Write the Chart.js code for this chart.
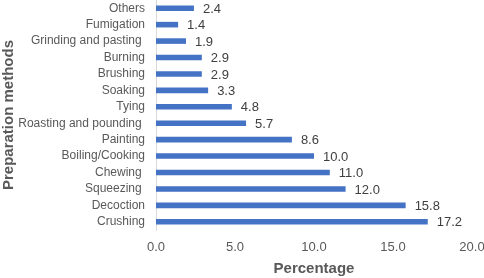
<!DOCTYPE html>
<html>
<head>
<meta charset="utf-8">
<script src="https://cdn.jsdelivr.net/npm/chart.js@4/dist/chart.umd.min.js"></script>
<style>
  html, body { margin: 0; padding: 0; background: #fff; }
  #wrap { width: 484px; height: 278px; }
</style>
</head>
<body>
<div id="wrap"><canvas id="c"></canvas></div>
<script>
const methods = ["Others", "Fumigation", "Grinding and pasting ", "Burning", "Brushing", "Soaking", "Tying",
  "Roasting and pounding ", "Painting", "Boiling/Cooking", "Chewing ", "Squeezing ", "Decoction", "Crushing"];
const percentages = [2.4, 1.4, 1.9, 2.9, 2.9, 3.3, 4.8, 5.7, 8.6, 10.0, 11.0, 12.0, 15.8, 17.2];
const xTicks = [0, 5, 10, 15, 20];

const FONT = "'Liberation Sans', Arial, sans-serif";

// values drawn at the end of each bar
const valueLabels = {
  id: "valueLabels",
  afterDatasetsDraw(chart){
    const ctx = chart.ctx;
    const meta = chart.getDatasetMeta(0);
    ctx.save();
    ctx.font = "13px " + FONT;
    ctx.fillStyle = "#404040";
    ctx.textAlign = "left";
    ctx.textBaseline = "middle";
    meta.data.forEach((bar, i) => {
      ctx.fillText(percentages[i].toFixed(1), bar.x + 9, bar.y + 1);
    });
    ctx.restore();
  }
};

new Chart(document.getElementById("c"), {
  type: "bar",
  data: {
    labels: methods,
    datasets: [{
      data: percentages,
      backgroundColor: "#4472C4",
      barPercentage: 0.34,
      categoryPercentage: 1.0
    }]
  },
  options: {
    indexAxis: "y",
    responsive: true,
    maintainAspectRatio: false,
    animation: false,
    layout: { padding: 0 },
    plugins: { legend: { display: false }, tooltip: { enabled: false } },
    scales: {
      x: {
        min: 0, max: 20,
        afterBuildTicks(scale){ scale.ticks = xTicks.map(v => ({ value: v })); },
        afterFit(scale){ scale.height = 48; scale.paddingRight = 12; },
        grid: { display: false, drawTicks: false },
        border: { display: false },
        ticks: {
          padding: 10,
          color: "#595959",
          font: { family: FONT, size: 13 },
          callback: (v) => Number(v).toFixed(1)
        },
        title: {
          display: true,
          text: "Percentage",
          color: "#595959",
          font: { family: FONT, size: 15, weight: "bold" },
          padding: { top: 7, bottom: 0 }
        }
      },
      y: {
        afterFit(scale){ scale.width = 156; scale.paddingTop = 0; scale.paddingBottom = 0; },
        grid: { display: false, drawTicks: false },
        border: { display: true, color: "#d9d9d9", width: 1 },
        ticks: {
          autoSkip: false,
          padding: 11,
          color: "#595959",
          font: { family: FONT, size: 12 }
        },
        title: {
          display: true,
          text: "Preparation methods",
          color: "#595959",
          font: { family: FONT, size: 15, weight: "bold" },
          padding: { top: 0, bottom: 0 }
        }
      }
    }
  },
  plugins: [valueLabels]
});
</script>
</body>
</html>
